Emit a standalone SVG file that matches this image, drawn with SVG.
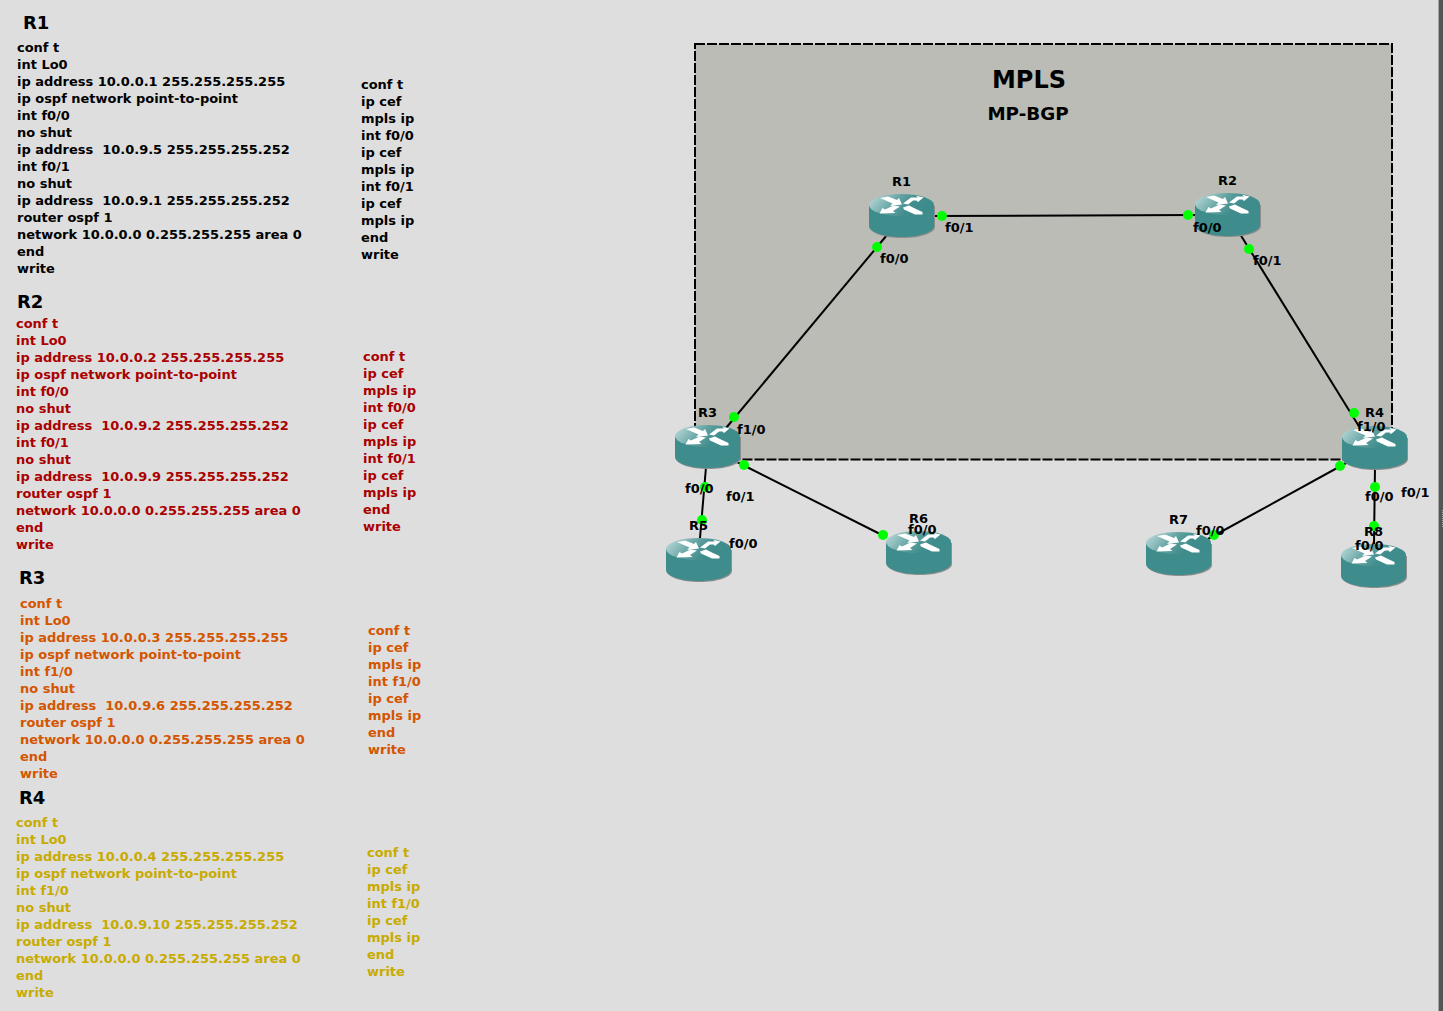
<svg xmlns="http://www.w3.org/2000/svg" width="1443" height="1011" viewBox="0 0 1443 1011">
<style>
text{font-family:"DejaVu Sans",sans-serif;font-weight:700;fill:#000}
.c{font-size:12.97px}
.h{font-size:18px}
.l{font-size:12.97px}
.m{text-anchor:middle}
.red text{fill:#aa0000}
.org text{fill:#d45500}
.yel text{fill:#c8ab00}
.dot{fill:#00ff00}
#links line{stroke:#000;stroke-width:2}
</style>
<defs>
<linearGradient id="top" x1="0" x2="1" y1="0.2" y2="0.5">
<stop offset="0" stop-color="#b8d8d8"/><stop offset="0.45" stop-color="#5f9f9f"/><stop offset="0.7" stop-color="#3f8d8c"/><stop offset="1" stop-color="#3d8b8b"/>
</linearGradient>
<g id="router">
<path d="M1 12V33C1 39 15 44 33.500 44S66 39 66 33V12Z" fill="#8d8d8d"/>
<path d="M0 11V32C0 38 14.500 43 32.500 43S65 38 65 32V11Z" fill="#3e8c8b"/>
<ellipse cx="32.500" cy="11" rx="32.500" ry="11" fill="url(#top)"/>
<g fill="#fff">
<path d="M11 4L19 2.500L28 6L30 4L33 10.500L21 12L23.500 9.500Z"/>
<path d="M34 9.500L42 3.500L49 3.500L47 1.800L54.500 3.500L49 8L47.500 6.500L44 6.500L39 10.500Z"/>
<path d="M31 12.500L24 17L26.500 19L10.500 19.500L13.500 14L16 15.500L24.500 11.500Z"/>
<path d="M34 13.500L40 11.500L47 15L53.500 18L53.500 20.500L46 20.500L35 15.500Z"/>
</g>
</g>
</defs>
<rect width="1443" height="1011" fill="#dedede"/>
<g id="window-edge">
<rect x="1438" y="0" width="1" height="1011" fill="#a3a3a3"/>
<rect x="1439" y="0" width="4" height="1011" fill="#555"/>
<path d="M1442.500 510V528" stroke="#a0a0a0" stroke-width="1" stroke-dasharray="1 1"/>
</g>

<g id="config-r1">
<text class="h" x="23" y="29">R1</text>
<text class="c" x="17" y="52">conf t</text>
<text class="c" x="17" y="69">int Lo0</text>
<text class="c" x="17" y="86">ip address 10.0.0.1 255.255.255.255</text>
<text class="c" x="17" y="103">ip ospf network point-to-point</text>
<text class="c" x="17" y="120">int f0/0</text>
<text class="c" x="17" y="137">no shut</text>
<text class="c" x="17" y="154" xml:space="preserve">ip address  10.0.9.5 255.255.255.252</text>
<text class="c" x="17" y="171">int f0/1</text>
<text class="c" x="17" y="188">no shut</text>
<text class="c" x="17" y="205" xml:space="preserve">ip address  10.0.9.1 255.255.255.252</text>
<text class="c" x="17" y="222">router ospf 1</text>
<text class="c" x="17" y="239">network 10.0.0.0 0.255.255.255 area 0</text>
<text class="c" x="17" y="256">end</text>
<text class="c" x="17" y="273">write</text>
<text class="c" x="361" y="89">conf t</text>
<text class="c" x="361" y="106">ip cef</text>
<text class="c" x="361" y="123">mpls ip</text>
<text class="c" x="361" y="140">int f0/0</text>
<text class="c" x="361" y="157">ip cef</text>
<text class="c" x="361" y="174">mpls ip</text>
<text class="c" x="361" y="191">int f0/1</text>
<text class="c" x="361" y="208">ip cef</text>
<text class="c" x="361" y="225">mpls ip</text>
<text class="c" x="361" y="242">end</text>
<text class="c" x="361" y="259">write</text>
</g>
<text class="h" x="17" y="308">R2</text>
<g id="config-r2" class="red">
<text class="c" x="16" y="328">conf t</text>
<text class="c" x="16" y="345">int Lo0</text>
<text class="c" x="16" y="362">ip address 10.0.0.2 255.255.255.255</text>
<text class="c" x="16" y="379">ip ospf network point-to-point</text>
<text class="c" x="16" y="396">int f0/0</text>
<text class="c" x="16" y="413">no shut</text>
<text class="c" x="16" y="430" xml:space="preserve">ip address  10.0.9.2 255.255.255.252</text>
<text class="c" x="16" y="447">int f0/1</text>
<text class="c" x="16" y="464">no shut</text>
<text class="c" x="16" y="481" xml:space="preserve">ip address  10.0.9.9 255.255.255.252</text>
<text class="c" x="16" y="498">router ospf 1</text>
<text class="c" x="16" y="515">network 10.0.0.0 0.255.255.255 area 0</text>
<text class="c" x="16" y="532">end</text>
<text class="c" x="16" y="549">write</text>
<text class="c" x="363" y="361">conf t</text>
<text class="c" x="363" y="378">ip cef</text>
<text class="c" x="363" y="395">mpls ip</text>
<text class="c" x="363" y="412">int f0/0</text>
<text class="c" x="363" y="429">ip cef</text>
<text class="c" x="363" y="446">mpls ip</text>
<text class="c" x="363" y="463">int f0/1</text>
<text class="c" x="363" y="480">ip cef</text>
<text class="c" x="363" y="497">mpls ip</text>
<text class="c" x="363" y="514">end</text>
<text class="c" x="363" y="531">write</text>
</g>
<text class="h" x="19" y="584">R3</text>
<g id="config-r3" class="org">
<text class="c" x="20" y="608">conf t</text>
<text class="c" x="20" y="625">int Lo0</text>
<text class="c" x="20" y="642">ip address 10.0.0.3 255.255.255.255</text>
<text class="c" x="20" y="659">ip ospf network point-to-point</text>
<text class="c" x="20" y="676">int f1/0</text>
<text class="c" x="20" y="693">no shut</text>
<text class="c" x="20" y="710" xml:space="preserve">ip address  10.0.9.6 255.255.255.252</text>
<text class="c" x="20" y="727">router ospf 1</text>
<text class="c" x="20" y="744">network 10.0.0.0 0.255.255.255 area 0</text>
<text class="c" x="20" y="761">end</text>
<text class="c" x="20" y="778">write</text>
<text class="c" x="368" y="635">conf t</text>
<text class="c" x="368" y="652">ip cef</text>
<text class="c" x="368" y="669">mpls ip</text>
<text class="c" x="368" y="686">int f1/0</text>
<text class="c" x="368" y="703">ip cef</text>
<text class="c" x="368" y="720">mpls ip</text>
<text class="c" x="368" y="737">end</text>
<text class="c" x="368" y="754">write</text>
</g>
<text class="h" x="19" y="804">R4</text>
<g id="config-r4" class="yel">
<text class="c" x="16" y="827">conf t</text>
<text class="c" x="16" y="844">int Lo0</text>
<text class="c" x="16" y="861">ip address 10.0.0.4 255.255.255.255</text>
<text class="c" x="16" y="878">ip ospf network point-to-point</text>
<text class="c" x="16" y="895">int f1/0</text>
<text class="c" x="16" y="912">no shut</text>
<text class="c" x="16" y="929" xml:space="preserve">ip address  10.0.9.10 255.255.255.252</text>
<text class="c" x="16" y="946">router ospf 1</text>
<text class="c" x="16" y="963">network 10.0.0.0 0.255.255.255 area 0</text>
<text class="c" x="16" y="980">end</text>
<text class="c" x="16" y="997">write</text>
<text class="c" x="367" y="857">conf t</text>
<text class="c" x="367" y="874">ip cef</text>
<text class="c" x="367" y="891">mpls ip</text>
<text class="c" x="367" y="908">int f1/0</text>
<text class="c" x="367" y="925">ip cef</text>
<text class="c" x="367" y="942">mpls ip</text>
<text class="c" x="367" y="959">end</text>
<text class="c" x="367" y="976">write</text>
</g>

<g id="mpls-area">
<rect x="695" y="44" width="697" height="415.500" fill="#babcb5" stroke="#000" stroke-width="2" stroke-dasharray="10 2"/>
<text class="m" x="1029" y="88" font-size="25" textLength="74" lengthAdjust="spacingAndGlyphs">MPLS</text>
<text class="m" x="1028" y="120" font-size="18.300">MP-BGP</text>
</g>

<g id="links">
<line x1="887" y1="235" x2="726" y2="428"/>
<line x1="935" y1="216" x2="1195" y2="215"/>
<line x1="1240" y1="234" x2="1360" y2="428"/>
<line x1="706" y1="467" x2="700" y2="538"/>
<line x1="735" y1="461" x2="886" y2="537"/>
<line x1="1348" y1="462" x2="1208" y2="539"/>
<line x1="1375" y1="467" x2="1374" y2="544"/>
<g class="dots">
<circle class="dot" cx="877" cy="247" r="5"/>
<circle class="dot" cx="942" cy="216" r="5"/>
<circle class="dot" cx="1188" cy="215" r="5"/>
<circle class="dot" cx="1249" cy="249" r="5"/>
<circle class="dot" cx="734" cy="417" r="5"/>
<circle class="dot" cx="1354" cy="413" r="5"/>
<circle class="dot" cx="705" cy="487" r="5"/>
<circle class="dot" cx="702" cy="520" r="5"/>
<circle class="dot" cx="744" cy="465" r="5"/>
<circle class="dot" cx="883" cy="535" r="5"/>
<circle class="dot" cx="1340" cy="466" r="5"/>
<circle class="dot" cx="1214" cy="535" r="5"/>
<circle class="dot" cx="1375" cy="487" r="5"/>
<circle class="dot" cx="1374" cy="526" r="5"/>
</g>
</g>

<g id="R1"><use href="#router" x="869" y="194"/><text class="l m" x="901.500" y="186">R1</text></g>
<g id="R2"><use href="#router" x="1195" y="193"/><text class="l m" x="1227.500" y="185">R2</text></g>
<g id="R3"><use href="#router" x="675" y="425"/><text class="l m" x="707.500" y="417">R3</text></g>
<g id="R4"><use href="#router" x="1342" y="426"/><text class="l m" x="1374.500" y="417">R4</text></g>
<g id="R5"><use href="#router" x="666" y="538"/><text class="l m" x="698.500" y="530">R5</text></g>
<g id="R6"><use href="#router" x="886" y="531"/><text class="l m" x="918.500" y="523">R6</text></g>
<g id="R7"><use href="#router" x="1146" y="532"/><text class="l m" x="1178.500" y="524">R7</text></g>
<g id="R8"><use href="#router" x="1341" y="544"/><text class="l m" x="1373.500" y="536">R8</text></g>

<g id="link-labels">
<text class="l" x="945" y="232">f0/1</text>
<text class="l" x="880" y="263">f0/0</text>
<text class="l" x="1193" y="232">f0/0</text>
<text class="l" x="1253" y="265">f0/1</text>
<text class="l" x="737" y="434">f1/0</text>
<text class="l" x="685" y="493">f0/0</text>
<text class="l" x="726" y="501">f0/1</text>
<text class="l" x="729" y="548">f0/0</text>
<text class="l" x="908" y="534">f0/0</text>
<text class="l" x="1357" y="431">f1/0</text>
<text class="l" x="1365" y="501">f0/0</text>
<text class="l" x="1401" y="497">f0/1</text>
<text class="l" x="1196" y="535">f0/0</text>
<text class="l" x="1355" y="550">f0/0</text>
</g>
</svg>
